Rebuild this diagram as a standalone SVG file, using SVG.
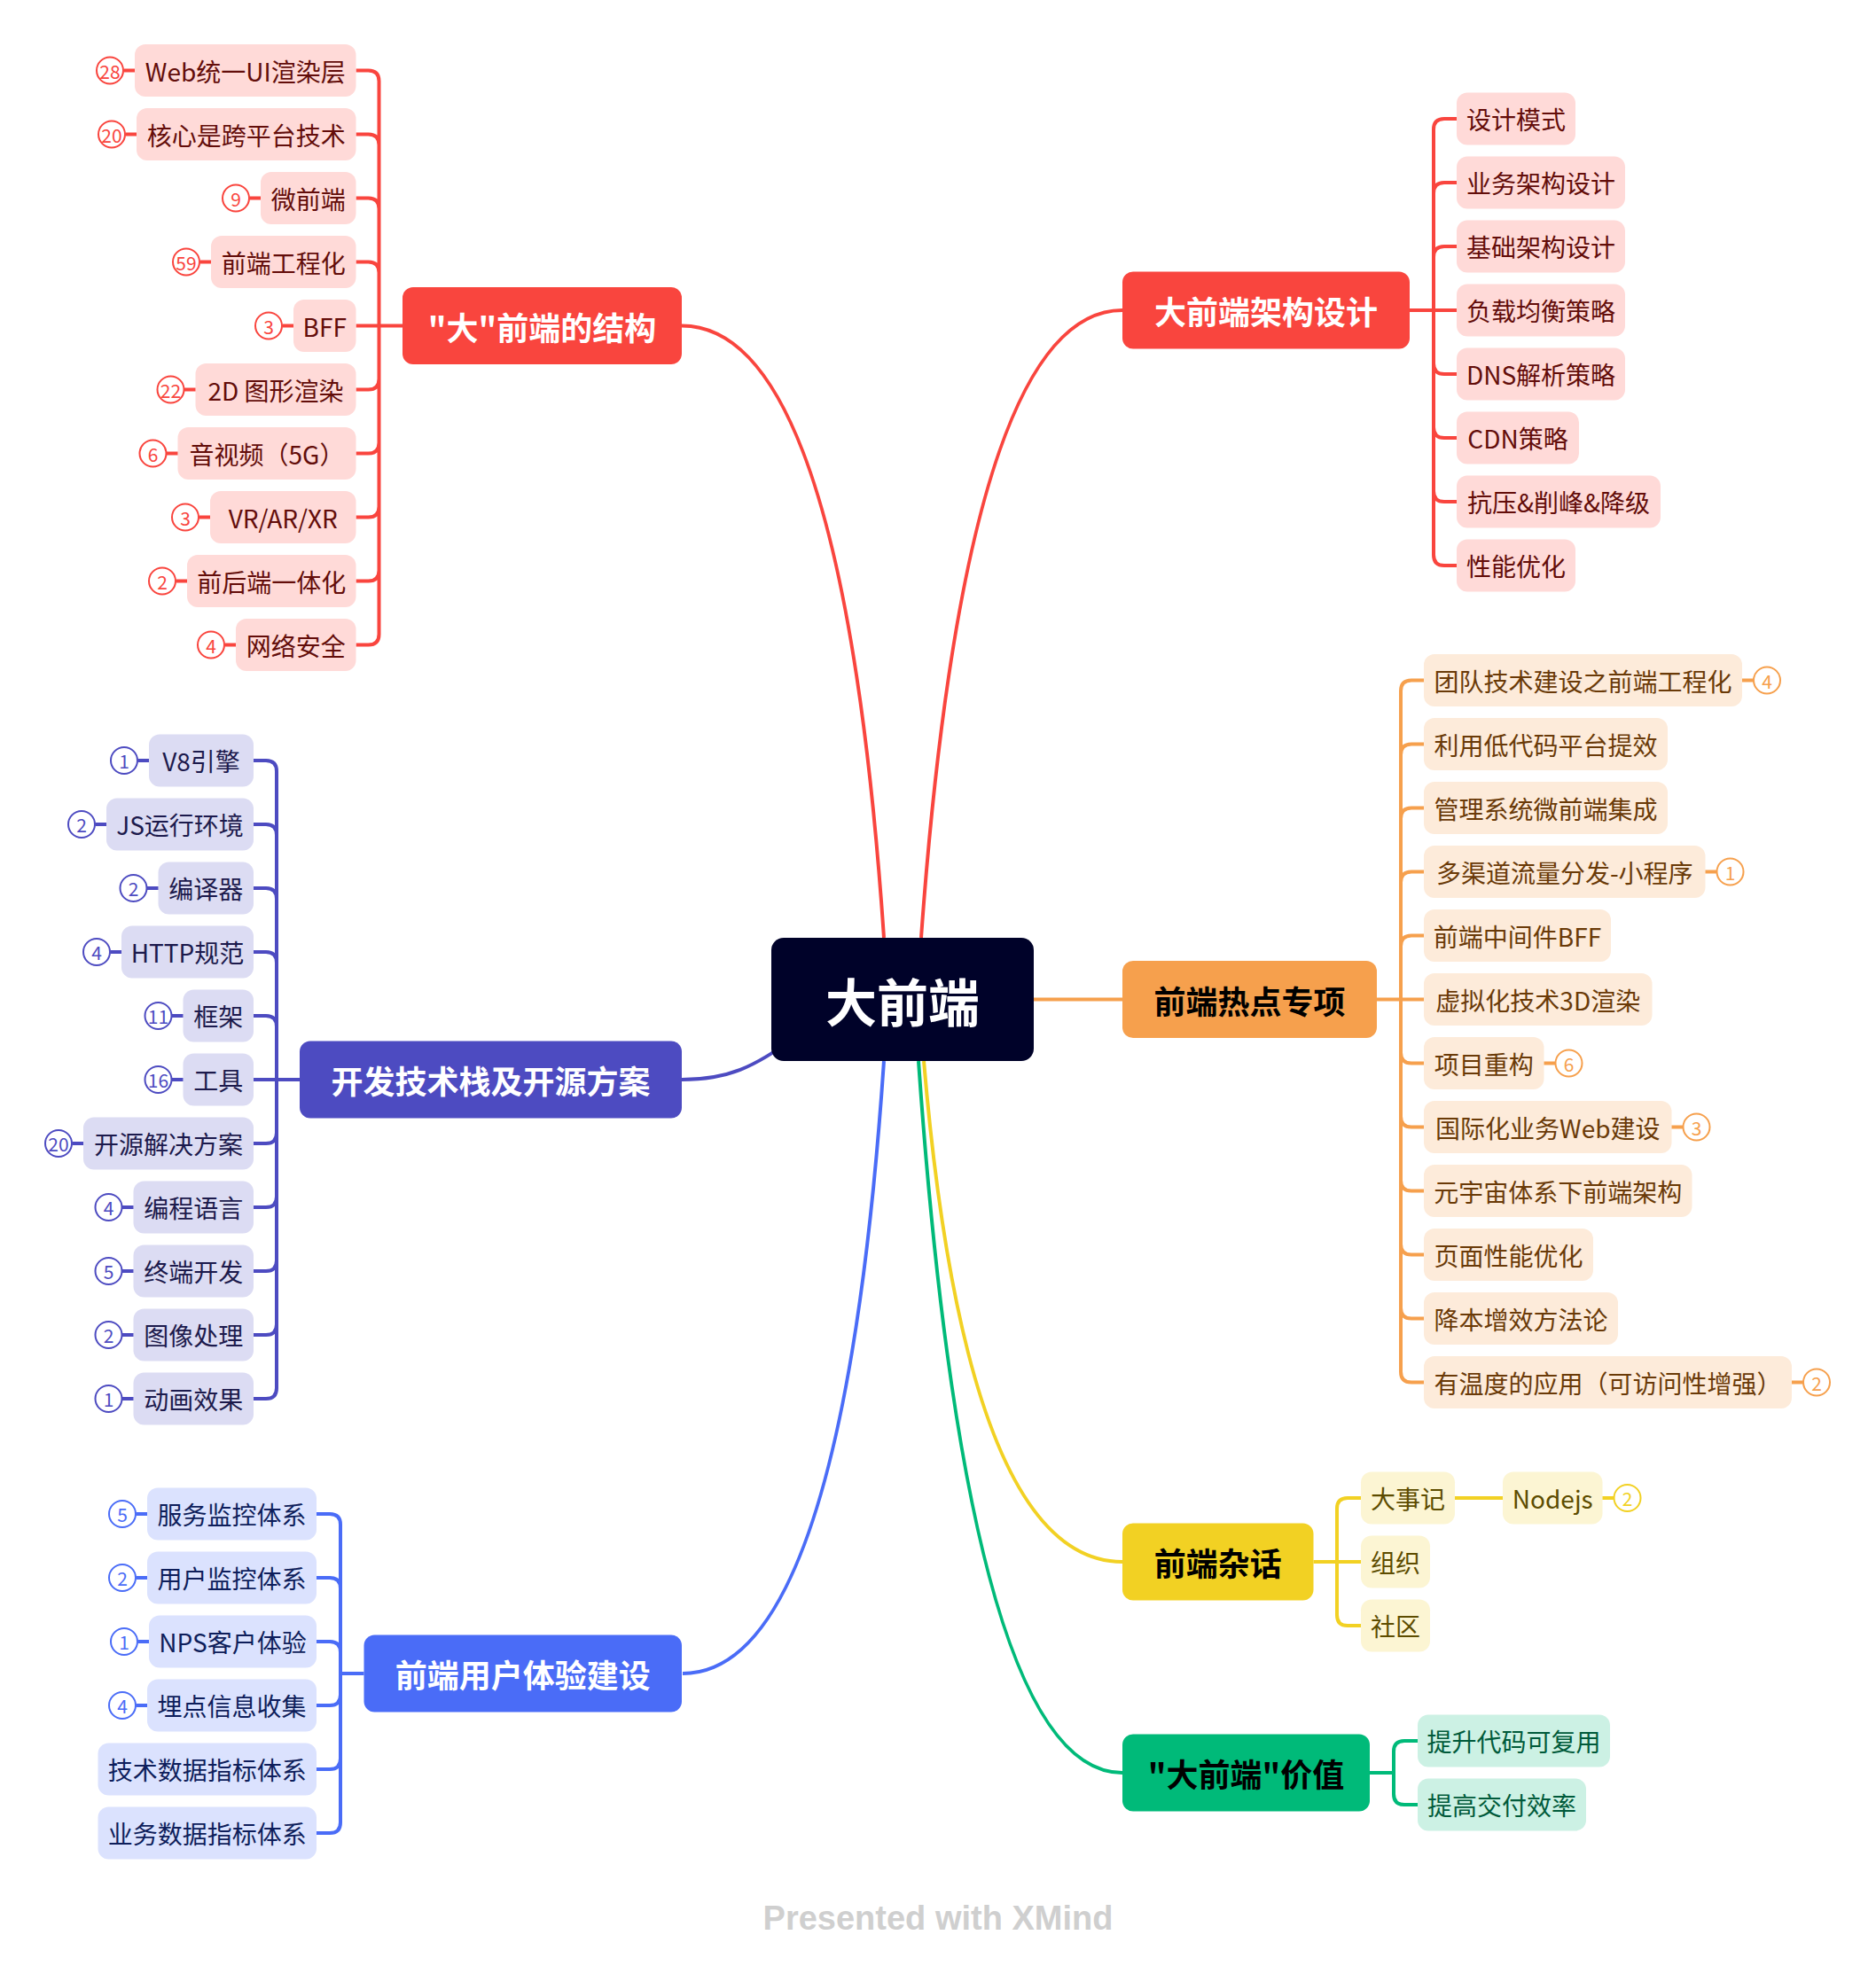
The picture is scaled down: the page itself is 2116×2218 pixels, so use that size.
<svg xmlns="http://www.w3.org/2000/svg" width="2116" height="2218" viewBox="0 0 2116 2218">
<style>
text{font-family:"Noto Sans CJK SC","Noto Sans",sans-serif;text-anchor:middle;dominant-baseline:central}
.st{font-size:28px;font-weight:400}
.mt{font-size:36px;font-weight:700}
.bt{font-size:21px;font-weight:400}
.bc{fill:#fff;stroke-width:2}
.bl{stroke-width:4}
#connectors path{fill:none;stroke-width:4}
.r .sn{fill:#FFDAD8}.r .st{fill:#630D0A}.r .bc,.r .bl{stroke:#F9453E}.r .bt{fill:#F9453E}.r .mn{fill:#F9453E}.r .mt{fill:#fff}
.i .sn{fill:#DCDCF3}.i .st{fill:#1C1A4C}.i .bc,.i .bl{stroke:#4D4BC1}.i .bt{fill:#4D4BC1}.i .mn{fill:#4D4BC1}.i .mt{fill:#fff}
.b .sn{fill:#DBE2FE}.b .st{fill:#0E1E5B}.b .bc,.b .bl{stroke:#4A6CF7}.b .bt{fill:#4A6CF7}.b .mn{fill:#4A6CF7}.b .mt{fill:#fff}
.o .sn{fill:#FDEBDA}.o .st{fill:#6A3A08}.o .bc,.o .bl{stroke:#F6A04D}.o .bt{fill:#F6A04D}.o .mn{fill:#F6A04D}.o .mt{fill:#000}
.y .sn{fill:#FCF5D3}.y .st{fill:#5D4C00}.y .bc,.y .bl{stroke:#F2D123}.y .bt{fill:#F2D123}.y .mn{fill:#F2D123}.y .mt{fill:#000}
.g .sn{fill:#CCF1E4}.g .st{fill:#005A3A}.g .mn{fill:#00BA79}.g .mt{fill:#000}
.cr{stroke:#F9453E}.ci{stroke:#4D4BC1}.cb{stroke:#4A6CF7}.co{stroke:#F6A04D}.cy{stroke:#F2D123}.cg{stroke:#00BA79}
</style>
<rect width="2116" height="2218" fill="#fff"/>
<g id="connectors">
<path class="cr" d="M769 367.5Q950 367.5 997 1058"/>
<path class="cr" d="M1266 350Q1090 350 1039 1058"/>
<path class="ci" d="M769 1218C820 1218 850 1205 900 1168"/>
<path class="cb" d="M770 1888Q950 1888 997 1197"/>
<path class="cy" d="M1266 1762Q1090 1762 1042 1197"/>
<path class="cg" d="M1266 2000Q1092 2000 1036 1197"/>
<path class="co" d="M1166 1127.5H1266"/>
<path class="cr" d="M401.5 79.5H415.5Q427.5 79.5 427.5 91.5V367.5H454M401.5 151.5H415.5Q427.5 151.5 427.5 163.5V367.5M401.5 223.5H415.5Q427.5 223.5 427.5 235.5V367.5M401.5 295.5H415.5Q427.5 295.5 427.5 307.5V367.5M401.5 367.5H454M401.5 439.5H415.5Q427.5 439.5 427.5 427.5V367.5M401.5 511.5H415.5Q427.5 511.5 427.5 499.5V367.5M401.5 583.5H415.5Q427.5 583.5 427.5 571.5V367.5M401.5 655.5H415.5Q427.5 655.5 427.5 643.5V367.5M401.5 727.5H415.5Q427.5 727.5 427.5 715.5V367.5"/>
<path class="cr" d="M1643 134H1629Q1617 134 1617 146V350H1590M1643 206H1629Q1617 206 1617 218V350M1643 278H1629Q1617 278 1617 290V350M1643 350H1590M1643 422H1629Q1617 422 1617 410V350M1643 494H1629Q1617 494 1617 482V350M1643 566H1629Q1617 566 1617 554V350M1643 638H1629Q1617 638 1617 626V350"/>
<path class="ci" d="M286 858H300Q312 858 312 870V1218H338M286 930H300Q312 930 312 942V1218M286 1002H300Q312 1002 312 1014V1218M286 1074H300Q312 1074 312 1086V1218M286 1146H300Q312 1146 312 1158V1218M286 1218H338M286 1290H300Q312 1290 312 1278V1218M286 1362H300Q312 1362 312 1350V1218M286 1434H300Q312 1434 312 1422V1218M286 1506H300Q312 1506 312 1494V1218M286 1578H300Q312 1578 312 1566V1218"/>
<path class="cb" d="M357 1708H372Q384 1708 384 1720V1888H410.5M357 1780H372Q384 1780 384 1792V1888M357 1852H372Q384 1852 384 1864V1888M357 1924H372Q384 1924 384 1912V1888M357 1996H372Q384 1996 384 1984V1888M357 2068H372Q384 2068 384 2056V1888"/>
<path class="co" d="M1606 767.5H1592Q1580 767.5 1580 779.5V1127.5H1553M1606 839.5H1592Q1580 839.5 1580 851.5V1127.5M1606 911.5H1592Q1580 911.5 1580 923.5V1127.5M1606 983.5H1592Q1580 983.5 1580 995.5V1127.5M1606 1055.5H1592Q1580 1055.5 1580 1067.5V1127.5M1606 1127.5H1553M1606 1199.5H1592Q1580 1199.5 1580 1187.5V1127.5M1606 1271.5H1592Q1580 1271.5 1580 1259.5V1127.5M1606 1343.5H1592Q1580 1343.5 1580 1331.5V1127.5M1606 1415.5H1592Q1580 1415.5 1580 1403.5V1127.5M1606 1487.5H1592Q1580 1487.5 1580 1475.5V1127.5M1606 1559.5H1592Q1580 1559.5 1580 1547.5V1127.5"/>
<path class="cy" d="M1535 1690H1520Q1508 1690 1508 1702V1762H1481.5M1535 1762H1481.5M1535 1834H1520Q1508 1834 1508 1822V1762M1641 1690H1695"/>
<path class="cg" d="M1599 1964H1584Q1572 1964 1572 1976V2000H1545M1599 2036H1584Q1572 2036 1572 2024V2000"/>
</g>

<g id="central"><rect x="870" y="1058" width="296" height="139" rx="14" fill="#000229"/><text x="1018" y="1127.5" style="font-size:58px;font-weight:700;fill:#fff">大前端</text></g>

<g id="m-structure" class="r"><rect class="mn" x="454" y="324" width="315" height="87" rx="12"/><text class="mt" x="611.5" y="367.5">"大"前端的结构</text></g>
<g id="m-arch" class="r"><rect class="mn" x="1266" y="306.5" width="324" height="87" rx="12"/><text class="mt" x="1428" y="350">大前端架构设计</text></g>
<g id="m-stack" class="i"><rect class="mn" x="338" y="1174.5" width="431" height="87" rx="12"/><text class="mt" x="553.5" y="1218">开发技术栈及开源方案</text></g>
<g id="m-ux" class="b"><rect class="mn" x="410.5" y="1844.5" width="358.5" height="87" rx="12"/><text class="mt" x="589.75" y="1888">前端用户体验建设</text></g>
<g id="m-hot" class="o"><rect class="mn" x="1266" y="1084" width="287" height="87" rx="12"/><text class="mt" x="1409.5" y="1127.5">前端热点专项</text></g>
<g id="m-talk" class="y"><rect class="mn" x="1266" y="1718.5" width="215.5" height="87" rx="12"/><text class="mt" x="1373.75" y="1762">前端杂话</text></g>
<g id="m-value" class="g"><rect class="mn" x="1266" y="1956.5" width="279" height="87" rx="12"/><text class="mt" x="1405.5" y="2000">"大前端"价值</text></g>

<g class="r">
<g id="r1"><rect class="sn" x="152" y="50" width="249.5" height="59" rx="12"/><text class="st" x="276.75" y="79.5">Web统一UI渲染层</text><line class="bl" x1="139.5" y1="79.5" x2="152" y2="79.5"/><circle class="bc" cx="124" cy="79.5" r="15"/><text class="bt" x="124" y="79.5">28</text></g>
<g id="r2"><rect class="sn" x="154" y="122" width="247.5" height="59" rx="12"/><text class="st" x="277.75" y="151.5">核心是跨平台技术</text><line class="bl" x1="141.5" y1="151.5" x2="154" y2="151.5"/><circle class="bc" cx="126" cy="151.5" r="15"/><text class="bt" x="126" y="151.5">20</text></g>
<g id="r3"><rect class="sn" x="294" y="194" width="107.5" height="59" rx="12"/><text class="st" x="347.75" y="223.5">微前端</text><line class="bl" x1="281.5" y1="223.5" x2="294" y2="223.5"/><circle class="bc" cx="266" cy="223.5" r="15"/><text class="bt" x="266" y="223.5">9</text></g>
<g id="r4"><rect class="sn" x="238" y="266" width="163.5" height="59" rx="12"/><text class="st" x="319.75" y="295.5">前端工程化</text><line class="bl" x1="225.5" y1="295.5" x2="238" y2="295.5"/><circle class="bc" cx="210" cy="295.5" r="15"/><text class="bt" x="210" y="295.5">59</text></g>
<g id="r5"><rect class="sn" x="331" y="338" width="70.5" height="59" rx="12"/><text class="st" x="366.25" y="367.5">BFF</text><line class="bl" x1="318.5" y1="367.5" x2="331" y2="367.5"/><circle class="bc" cx="303" cy="367.5" r="15"/><text class="bt" x="303" y="367.5">3</text></g>
<g id="r6"><rect class="sn" x="220.5" y="410" width="181" height="59" rx="12"/><text class="st" x="311" y="439.5">2D 图形渲染</text><line class="bl" x1="208" y1="439.5" x2="220.5" y2="439.5"/><circle class="bc" cx="192.5" cy="439.5" r="15"/><text class="bt" x="192.5" y="439.5">22</text></g>
<g id="r7"><rect class="sn" x="200.5" y="482" width="201" height="59" rx="12"/><text class="st" x="301" y="511.5">音视频（5G）</text><line class="bl" x1="188" y1="511.5" x2="200.5" y2="511.5"/><circle class="bc" cx="172.5" cy="511.5" r="15"/><text class="bt" x="172.5" y="511.5">6</text></g>
<g id="r8"><rect class="sn" x="237" y="554" width="164.5" height="59" rx="12"/><text class="st" x="319.25" y="583.5">VR/AR/XR</text><line class="bl" x1="224.5" y1="583.5" x2="237" y2="583.5"/><circle class="bc" cx="209" cy="583.5" r="15"/><text class="bt" x="209" y="583.5">3</text></g>
<g id="r9"><rect class="sn" x="211" y="626" width="190.5" height="59" rx="12"/><text class="st" x="306.25" y="655.5">前后端一体化</text><line class="bl" x1="198.5" y1="655.5" x2="211" y2="655.5"/><circle class="bc" cx="183" cy="655.5" r="15"/><text class="bt" x="183" y="655.5">2</text></g>
<g id="r10"><rect class="sn" x="266" y="698" width="135.5" height="59" rx="12"/><text class="st" x="333.75" y="727.5">网络安全</text><line class="bl" x1="253.5" y1="727.5" x2="266" y2="727.5"/><circle class="bc" cx="238" cy="727.5" r="15"/><text class="bt" x="238" y="727.5">4</text></g>
</g>

<g class="r">
<g id="a1"><rect class="sn" x="1643" y="104.5" width="134" height="59" rx="12"/><text class="st" x="1710" y="134">设计模式</text></g>
<g id="a2"><rect class="sn" x="1643" y="176.5" width="190" height="59" rx="12"/><text class="st" x="1738" y="206">业务架构设计</text></g>
<g id="a3"><rect class="sn" x="1643" y="248.5" width="190" height="59" rx="12"/><text class="st" x="1738" y="278">基础架构设计</text></g>
<g id="a4"><rect class="sn" x="1643" y="320.5" width="190" height="59" rx="12"/><text class="st" x="1738" y="350">负载均衡策略</text></g>
<g id="a5"><rect class="sn" x="1643" y="392.5" width="190" height="59" rx="12"/><text class="st" x="1738" y="422">DNS解析策略</text></g>
<g id="a6"><rect class="sn" x="1643" y="464.5" width="138" height="59" rx="12"/><text class="st" x="1712" y="494">CDN策略</text></g>
<g id="a7"><rect class="sn" x="1643" y="536.5" width="230" height="59" rx="12"/><text class="st" x="1758" y="566">抗压&amp;削峰&amp;降级</text></g>
<g id="a8"><rect class="sn" x="1643" y="608.5" width="134" height="59" rx="12"/><text class="st" x="1710" y="638">性能优化</text></g>
</g>

<g class="i">
<g id="s1"><rect class="sn" x="168" y="828.5" width="118" height="59" rx="12"/><text class="st" x="227" y="858">V8引擎</text><line class="bl" x1="155.5" y1="858" x2="168" y2="858"/><circle class="bc" cx="140" cy="858" r="15"/><text class="bt" x="140" y="858">1</text></g>
<g id="s2"><rect class="sn" x="120" y="900.5" width="166" height="59" rx="12"/><text class="st" x="203" y="930">JS运行环境</text><line class="bl" x1="107.5" y1="930" x2="120" y2="930"/><circle class="bc" cx="92" cy="930" r="15"/><text class="bt" x="92" y="930">2</text></g>
<g id="s3"><rect class="sn" x="178.5" y="972.5" width="107.5" height="59" rx="12"/><text class="st" x="232.25" y="1002">编译器</text><line class="bl" x1="166" y1="1002" x2="178.5" y2="1002"/><circle class="bc" cx="150.5" cy="1002" r="15"/><text class="bt" x="150.5" y="1002">2</text></g>
<g id="s4"><rect class="sn" x="137" y="1044.5" width="149" height="59" rx="12"/><text class="st" x="211.5" y="1074">HTTP规范</text><line class="bl" x1="124.5" y1="1074" x2="137" y2="1074"/><circle class="bc" cx="109" cy="1074" r="15"/><text class="bt" x="109" y="1074">4</text></g>
<g id="s5"><rect class="sn" x="206.5" y="1116.5" width="79.5" height="59" rx="12"/><text class="st" x="246.25" y="1146">框架</text><line class="bl" x1="194" y1="1146" x2="206.5" y2="1146"/><circle class="bc" cx="178.5" cy="1146" r="15"/><text class="bt" x="178.5" y="1146">11</text></g>
<g id="s6"><rect class="sn" x="206.5" y="1188.5" width="79.5" height="59" rx="12"/><text class="st" x="246.25" y="1218">工具</text><line class="bl" x1="194" y1="1218" x2="206.5" y2="1218"/><circle class="bc" cx="178.5" cy="1218" r="15"/><text class="bt" x="178.5" y="1218">16</text></g>
<g id="s7"><rect class="sn" x="94" y="1260.5" width="192" height="59" rx="12"/><text class="st" x="190" y="1290">开源解决方案</text><line class="bl" x1="81.5" y1="1290" x2="94" y2="1290"/><circle class="bc" cx="66" cy="1290" r="15"/><text class="bt" x="66" y="1290">20</text></g>
<g id="s8"><rect class="sn" x="150.5" y="1332.5" width="135.5" height="59" rx="12"/><text class="st" x="218.25" y="1362">编程语言</text><line class="bl" x1="138" y1="1362" x2="150.5" y2="1362"/><circle class="bc" cx="122.5" cy="1362" r="15"/><text class="bt" x="122.5" y="1362">4</text></g>
<g id="s9"><rect class="sn" x="150.5" y="1404.5" width="135.5" height="59" rx="12"/><text class="st" x="218.25" y="1434">终端开发</text><line class="bl" x1="138" y1="1434" x2="150.5" y2="1434"/><circle class="bc" cx="122.5" cy="1434" r="15"/><text class="bt" x="122.5" y="1434">5</text></g>
<g id="s10"><rect class="sn" x="150.5" y="1476.5" width="135.5" height="59" rx="12"/><text class="st" x="218.25" y="1506">图像处理</text><line class="bl" x1="138" y1="1506" x2="150.5" y2="1506"/><circle class="bc" cx="122.5" cy="1506" r="15"/><text class="bt" x="122.5" y="1506">2</text></g>
<g id="s11"><rect class="sn" x="150.5" y="1548.5" width="135.5" height="59" rx="12"/><text class="st" x="218.25" y="1578">动画效果</text><line class="bl" x1="138" y1="1578" x2="150.5" y2="1578"/><circle class="bc" cx="122.5" cy="1578" r="15"/><text class="bt" x="122.5" y="1578">1</text></g>
</g>

<g class="b">
<g id="u1"><rect class="sn" x="166" y="1678.5" width="191" height="59" rx="12"/><text class="st" x="261.5" y="1708">服务监控体系</text><line class="bl" x1="153.5" y1="1708" x2="166" y2="1708"/><circle class="bc" cx="138" cy="1708" r="15"/><text class="bt" x="138" y="1708">5</text></g>
<g id="u2"><rect class="sn" x="166" y="1750.5" width="191" height="59" rx="12"/><text class="st" x="261.5" y="1780">用户监控体系</text><line class="bl" x1="153.5" y1="1780" x2="166" y2="1780"/><circle class="bc" cx="138" cy="1780" r="15"/><text class="bt" x="138" y="1780">2</text></g>
<g id="u3"><rect class="sn" x="168" y="1822.5" width="189" height="59" rx="12"/><text class="st" x="262.5" y="1852">NPS客户体验</text><line class="bl" x1="155.5" y1="1852" x2="168" y2="1852"/><circle class="bc" cx="140" cy="1852" r="15"/><text class="bt" x="140" y="1852">1</text></g>
<g id="u4"><rect class="sn" x="166" y="1894.5" width="191" height="59" rx="12"/><text class="st" x="261.5" y="1924">埋点信息收集</text><line class="bl" x1="153.5" y1="1924" x2="166" y2="1924"/><circle class="bc" cx="138" cy="1924" r="15"/><text class="bt" x="138" y="1924">4</text></g>
<g id="u5"><rect class="sn" x="110.5" y="1966.5" width="246.5" height="59" rx="12"/><text class="st" x="233.75" y="1996">技术数据指标体系</text></g>
<g id="u6"><rect class="sn" x="110.5" y="2038.5" width="246.5" height="59" rx="12"/><text class="st" x="233.75" y="2068">业务数据指标体系</text></g>
</g>

<g class="o">
<g id="h1"><rect class="sn" x="1606" y="738" width="359" height="59" rx="12"/><text class="st" x="1785.5" y="767.5">团队技术建设之前端工程化</text><line class="bl" x1="1965" y1="767.5" x2="1978" y2="767.5"/><circle class="bc" cx="1993" cy="767.5" r="15"/><text class="bt" x="1993" y="767.5">4</text></g>
<g id="h2"><rect class="sn" x="1606" y="810" width="275" height="59" rx="12"/><text class="st" x="1743.5" y="839.5">利用低代码平台提效</text></g>
<g id="h3"><rect class="sn" x="1606" y="882" width="275" height="59" rx="12"/><text class="st" x="1743.5" y="911.5">管理系统微前端集成</text></g>
<g id="h4"><rect class="sn" x="1606" y="954" width="317.5" height="59" rx="12"/><text class="st" x="1764.75" y="983.5">多渠道流量分发-小程序</text><line class="bl" x1="1923.5" y1="983.5" x2="1936.5" y2="983.5"/><circle class="bc" cx="1951.5" cy="983.5" r="15"/><text class="bt" x="1951.5" y="983.5">1</text></g>
<g id="h5"><rect class="sn" x="1606" y="1026" width="211" height="59" rx="12"/><text class="st" x="1711.5" y="1055.5">前端中间件BFF</text></g>
<g id="h6"><rect class="sn" x="1606" y="1098" width="257.5" height="59" rx="12"/><text class="st" x="1734.75" y="1127.5">虚拟化技术3D渲染</text></g>
<g id="h7"><rect class="sn" x="1606" y="1170" width="135.5" height="59" rx="12"/><text class="st" x="1673.75" y="1199.5">项目重构</text><line class="bl" x1="1741.5" y1="1199.5" x2="1754.5" y2="1199.5"/><circle class="bc" cx="1769.5" cy="1199.5" r="15"/><text class="bt" x="1769.5" y="1199.5">6</text></g>
<g id="h8"><rect class="sn" x="1606" y="1242" width="279.5" height="59" rx="12"/><text class="st" x="1745.75" y="1271.5">国际化业务Web建设</text><line class="bl" x1="1885.5" y1="1271.5" x2="1898.5" y2="1271.5"/><circle class="bc" cx="1913.5" cy="1271.5" r="15"/><text class="bt" x="1913.5" y="1271.5">3</text></g>
<g id="h9"><rect class="sn" x="1606" y="1314" width="302.5" height="59" rx="12"/><text class="st" x="1757.25" y="1343.5">元宇宙体系下前端架构</text></g>
<g id="h10"><rect class="sn" x="1606" y="1386" width="191" height="59" rx="12"/><text class="st" x="1701.5" y="1415.5">页面性能优化</text></g>
<g id="h11"><rect class="sn" x="1606" y="1458" width="219" height="59" rx="12"/><text class="st" x="1715.5" y="1487.5">降本增效方法论</text></g>
<g id="h12"><rect class="sn" x="1606" y="1530" width="415" height="59" rx="12"/><text class="st" x="1813.5" y="1559.5">有温度的应用（可访问性增强）</text><line class="bl" x1="2021" y1="1559.5" x2="2034" y2="1559.5"/><circle class="bc" cx="2049" cy="1559.5" r="15"/><text class="bt" x="2049" y="1559.5">2</text></g>
</g>

<g class="y">
<g id="t1"><rect class="sn" x="1535" y="1660.5" width="106" height="59" rx="12"/><text class="st" x="1588" y="1690">大事记</text></g>
<g id="t1a"><rect class="sn" x="1695" y="1660.5" width="112.5" height="59" rx="12"/><text class="st" x="1751.25" y="1690">Nodejs</text><line class="bl" x1="1807.5" y1="1690" x2="1820.5" y2="1690"/><circle class="bc" cx="1835.5" cy="1690" r="15"/><text class="bt" x="1835.5" y="1690">2</text></g>
<g id="t2"><rect class="sn" x="1535" y="1732.5" width="78" height="59" rx="12"/><text class="st" x="1574" y="1762">组织</text></g>
<g id="t3"><rect class="sn" x="1535" y="1804.5" width="78" height="59" rx="12"/><text class="st" x="1574" y="1834">社区</text></g>
</g>

<g class="g">
<g id="v1"><rect class="sn" x="1599" y="1934.5" width="217" height="59" rx="12"/><text class="st" x="1707.5" y="1964">提升代码可复用</text></g>
<g id="v2"><rect class="sn" x="1599" y="2006.5" width="190" height="59" rx="12"/><text class="st" x="1694" y="2036">提高交付效率</text></g>
</g>

<text x="1058" y="2164" style="font-family:'Liberation Sans',Arial,sans-serif;font-size:38px;font-weight:700;fill:#CFCFCF">Presented with XMind</text>
</svg>
